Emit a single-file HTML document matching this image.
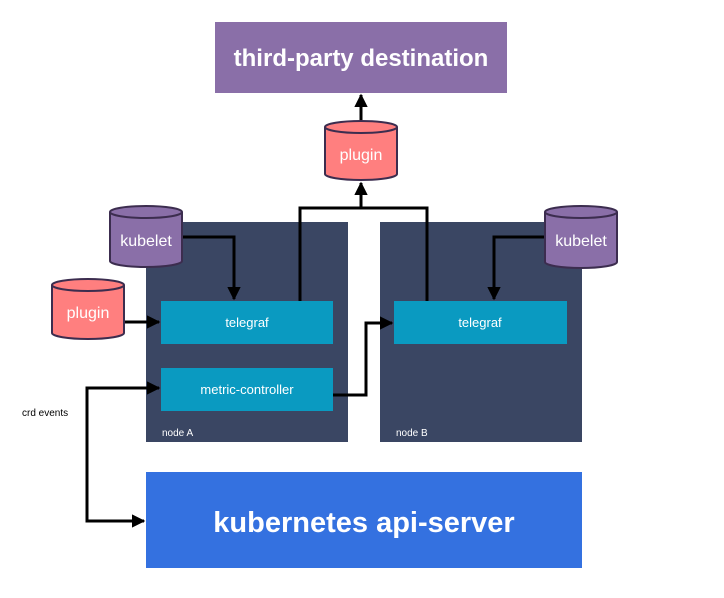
<!DOCTYPE html>
<html><head><meta charset="utf-8"><style>body{margin:0;background:#fff}svg{display:block}text{font-family:"Liberation Sans",Arial,sans-serif}</style></head><body>
<svg width="724" height="598" viewBox="0 0 724 598" xmlns="http://www.w3.org/2000/svg">
<defs>
<marker id="a" viewBox="0 0 10 10" refX="9" refY="5" markerWidth="4.5" markerHeight="4.5" orient="auto-start-reverse" markerUnits="strokeWidth"><path d="M0,0 L10,5 L0,10 z" fill="#000"/></marker>
</defs>
<rect x="215" y="22" width="292" height="71" fill="#8a6fa8"/>
<text x="361" y="66" font-size="24" font-weight="bold" fill="#fff" text-anchor="middle">third-party destination</text>
<rect x="146" y="222" width="202" height="220" fill="#3a4663"/>
<rect x="380" y="222" width="202" height="220" fill="#3a4663"/>
<text x="162" y="436" font-size="10" fill="#fff">node A</text>
<text x="396" y="436" font-size="10" fill="#fff">node B</text>
<rect x="161" y="301" width="172" height="43" fill="#0a9ac1"/>
<text x="247" y="327" font-size="13" fill="#fff" text-anchor="middle">telegraf</text>
<rect x="161" y="368" width="172" height="43" fill="#0a9ac1"/>
<text x="247" y="394" font-size="13" fill="#fff" text-anchor="middle">metric-controller</text>
<rect x="394" y="301" width="173" height="43" fill="#0a9ac1"/>
<text x="480" y="327" font-size="13" fill="#fff" text-anchor="middle">telegraf</text>
<rect x="146" y="472" width="436" height="96" fill="#3471e0"/>
<text x="364" y="532" font-size="29" font-weight="bold" fill="#fff" text-anchor="middle">kubernetes api-server</text>
<text x="22" y="416" font-size="10" fill="#000">crd events</text>
<g fill="none" stroke="#000" stroke-width="3">
<path d="M361 120 V95" marker-end="url(#a)"/>
<path d="M300 301 V208 H427 V301"/>
<path d="M361 208 V183" marker-end="url(#a)"/>
<path d="M183 237 H234 V299" marker-end="url(#a)"/>
<path d="M124 322 H159" marker-end="url(#a)"/>
<path d="M333 395 H366 V323 H392" marker-end="url(#a)"/>
<path d="M545 237 H494 V299" marker-end="url(#a)"/>
<path d="M159 388 H87 V521 H144" marker-start="url(#a)" marker-end="url(#a)"/>
</g>
<g stroke="#3c2d4f" stroke-width="2">
<path d="M325 127 V174 A36 6 0 0 0 397 174 V127" fill="#ff7f7f"/>
<ellipse cx="361" cy="127" rx="36" ry="6" fill="#ff7f7f"/>
<path d="M52 285 V333 A36 6 0 0 0 124 333 V285" fill="#ff7f7f"/>
<ellipse cx="88" cy="285" rx="36" ry="6" fill="#ff7f7f"/>
<path d="M110 212 V261 A36 6 0 0 0 182 261 V212" fill="#8a6fa8"/>
<ellipse cx="146" cy="212" rx="36" ry="6" fill="#8a6fa8"/>
<path d="M545 212 V262 A36 6 0 0 0 617 262 V212" fill="#8a6fa8"/>
<ellipse cx="581" cy="212" rx="36" ry="6" fill="#8a6fa8"/>
</g>
<g font-size="16" fill="#fff" text-anchor="middle">
<text x="361" y="160">plugin</text>
<text x="88" y="318">plugin</text>
<text x="146" y="246">kubelet</text>
<text x="581" y="246">kubelet</text>
</g>
</svg>
</body></html>
